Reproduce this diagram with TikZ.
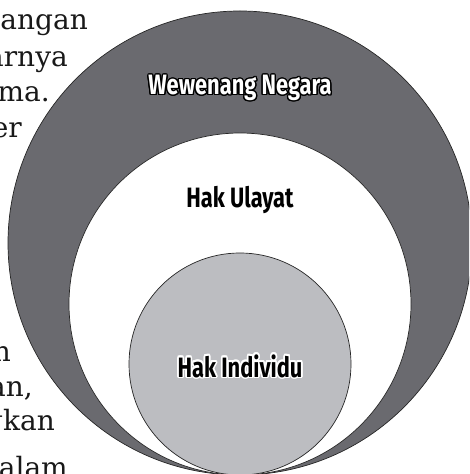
\documentclass[tikz,border=0pt]{standalone}
\usepackage{fontspec}
\setmainfont{DejaVu Serif}
\newfontfamily\labfont[FakeStretch=0.78]{Fira Sans}
\definecolor{darkring}{RGB}{106,106,111}
\definecolor{lightdisc}{RGB}{188,189,193}
\tikzset{
  bodytext/.style={anchor=base east, inner sep=0pt, font=\fontsize{28}{33}\selectfont, text=black!90},
  ring/.style={draw=black!85, line width=0.7pt},
  lab/.style={inner sep=0pt, font=\labfont\bfseries\fontsize{28}{32}\selectfont},
}
\newcommand\halolabel[6]{% name, position, outline colour, fill colour, halo width, text
  \foreach \ang in {0,22.5,...,337.5}
    \node[lab, text=#3] at ([shift={(\ang:#5)}]#2) {#6};
  \node[lab, text=#4] (#1) at (#2) {#6};
}
\begin{document}
\begin{tikzpicture}[x=1pt,y=1pt]
\useasboundingbox (0,0) rectangle (469,474);
% body text fragments (cut by the left edge)
\begin{scope}
\clip (0,0) rectangle (469,474);
\node[bodytext] (t1) at (88,444) {angan};
\node[bodytext] (t2) at (68,407) {arnya};
\node[bodytext] (t3) at (50,372) {ma.};
\node[bodytext] (t4) at (22,336) {er};
\node[bodytext] (t5) at (11,112) {n};
\node[bodytext] (t6) at (33,77) {an,};
\node[bodytext] (t7) at (55,43) {gkan};
\node[bodytext] (t8) at (68,-3) {dalam};
% nested circles, tangent at the bottom
\filldraw[ring, fill=darkring] (240,231) circle[radius=232];
\filldraw[ring, fill=white] (240,170) circle[radius=171];
\filldraw[ring, fill=lightdisc] (240,110) circle[radius=111];
\end{scope}
% labels
\coordinate (pW) at (240,386);
\coordinate (pU) at (240,274);
\coordinate (pI) at (240,108);
\halolabel{wn}{pW}{black}{white}{1.3pt}{Wewenang Negara}
\halolabel{hu}{pU}{white}{black}{1.3pt}{Hak Ulayat}
\halolabel{hi}{pI}{white}{black}{1.6pt}{Hak Individu}
\end{tikzpicture}
\end{document}
